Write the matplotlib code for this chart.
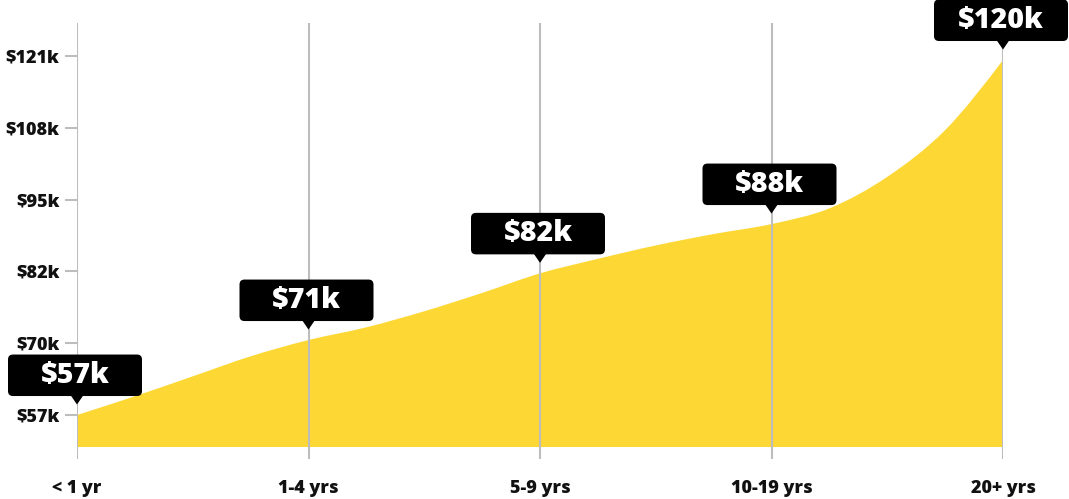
import numpy as np
import matplotlib
matplotlib.use("Agg")
from matplotlib import pyplot as plt
from matplotlib.path import Path
from matplotlib.patches import PathPatch, FancyBboxPatch, Polygon
from matplotlib.transforms import ScaledTranslation

# data
categories = ["< 1 yr", "1-4 yrs", "5-9 yrs", "10-19 yrs", "20+ yrs"]
salary_labels = ["$57k", "$71k", "$82k", "$88k", "$120k"]
# curve height ($k) read every quarter category step
curve_step = 0.25
curve_vals = [57.0, 60.35, 63.9, 67.47, 70.37,
              72.64, 75.5, 78.77, 82.26,
              84.85, 87.24, 89.27, 91.05,
              93.85, 99.47, 107.8, 120.3]
ytick_vals = [57, 69.8, 82.6, 95.4, 108.2, 121]
ytick_labels = ["$57k", "$70k", "$82k", "$95k", "$108k", "$121k"]

YELLOW = "#FDD835"
GRID = "#bdbdbd"
plt.rcParams["font.family"] = ["Open Sans", "DejaVu Sans"]


def smooth_path(x, y, base):
    # cubic bezier through the points (centred-difference tangents),
    # closed down to base
    x = np.asarray(x, float)
    y = np.asarray(y, float)
    h = np.diff(x)
    s = np.diff(y) / h
    n = len(x)
    t = np.zeros(n)
    t[1:-1] = (y[2:] - y[:-2]) / (x[2:] - x[:-2])
    t[0] = (3 * s[0] - t[1]) / 2
    t[-1] = (3 * s[-1] - t[-2]) / 2
    verts = [(x[0], base), (x[0], y[0])]
    codes = [Path.MOVETO, Path.LINETO]
    for i in range(n - 1):
        dx = h[i] / 3
        verts += [(x[i] + dx, y[i] + dx * t[i]),
                  (x[i + 1] - dx, y[i + 1] - dx * t[i + 1]),
                  (x[i + 1], y[i + 1])]
        codes += [Path.CURVE4] * 3
    verts += [(x[-1], base), (x[0], base)]
    codes += [Path.LINETO, Path.CLOSEPOLY]
    return Path(verts, codes)


fig = plt.figure(figsize=(10.69, 4.99), dpi=100)
ax = fig.add_axes([77 / 1069, 40 / 499, 926 / 1069, 436 / 499])

xs = np.arange(len(categories))
cx = np.arange(len(curve_vals)) * curve_step
base = 51.3
ax.add_patch(PathPatch(smooth_path(cx, curve_vals, base), facecolor=YELLOW,
                       edgecolor="none", zorder=1))

for xv in xs:
    ax.axvline(xv, color=GRID, lw=1.5, zorder=2)

ax.set_xlim(0, len(categories) - 1)
ax.set_ylim(49.16, 126.9)

for sp in ax.spines.values():
    sp.set_visible(False)

ax.set_yticks(ytick_vals)
ax.set_yticklabels(ytick_labels)
ax.tick_params(axis="y", length=9, width=1.5, color=GRID, pad=3.5,
               labelsize=13)
ax.set_xticks(xs)
ax.set_xticklabels(categories)
ax.tick_params(axis="x", length=0, pad=15, labelsize=13)
for lab in ax.get_yticklabels() + ax.get_xticklabels():
    lab.set_fontweight("heavy")
    lab.set_color("#111111")

# value callouts (sizes in inches, anchored on the curve at each category)
step = int(round(1 / curve_step))
for xv, yv, txt in zip(xs, curve_vals[::step], salary_labels):
    tr = fig.dpi_scale_trans + ScaledTranslation(xv, yv, ax.transData)
    ax.add_patch(FancyBboxPatch((-0.69, 0.19), 1.34, 0.415,
                                boxstyle="round,pad=0,rounding_size=0.05",
                                facecolor="black", edgecolor="none",
                                transform=tr, clip_on=False, zorder=5))
    ax.add_patch(Polygon([(-0.065, 0.20), (0.065, 0.20), (0, 0.105)],
                         closed=True, facecolor="black", edgecolor="none",
                         transform=tr, clip_on=False, zorder=5))
    ax.text(-0.02, 0.40, txt, transform=tr, ha="center", va="center",
            color="white", fontsize=20.5, fontweight="heavy", zorder=6)

fig.savefig("out.png", dpi=100)
